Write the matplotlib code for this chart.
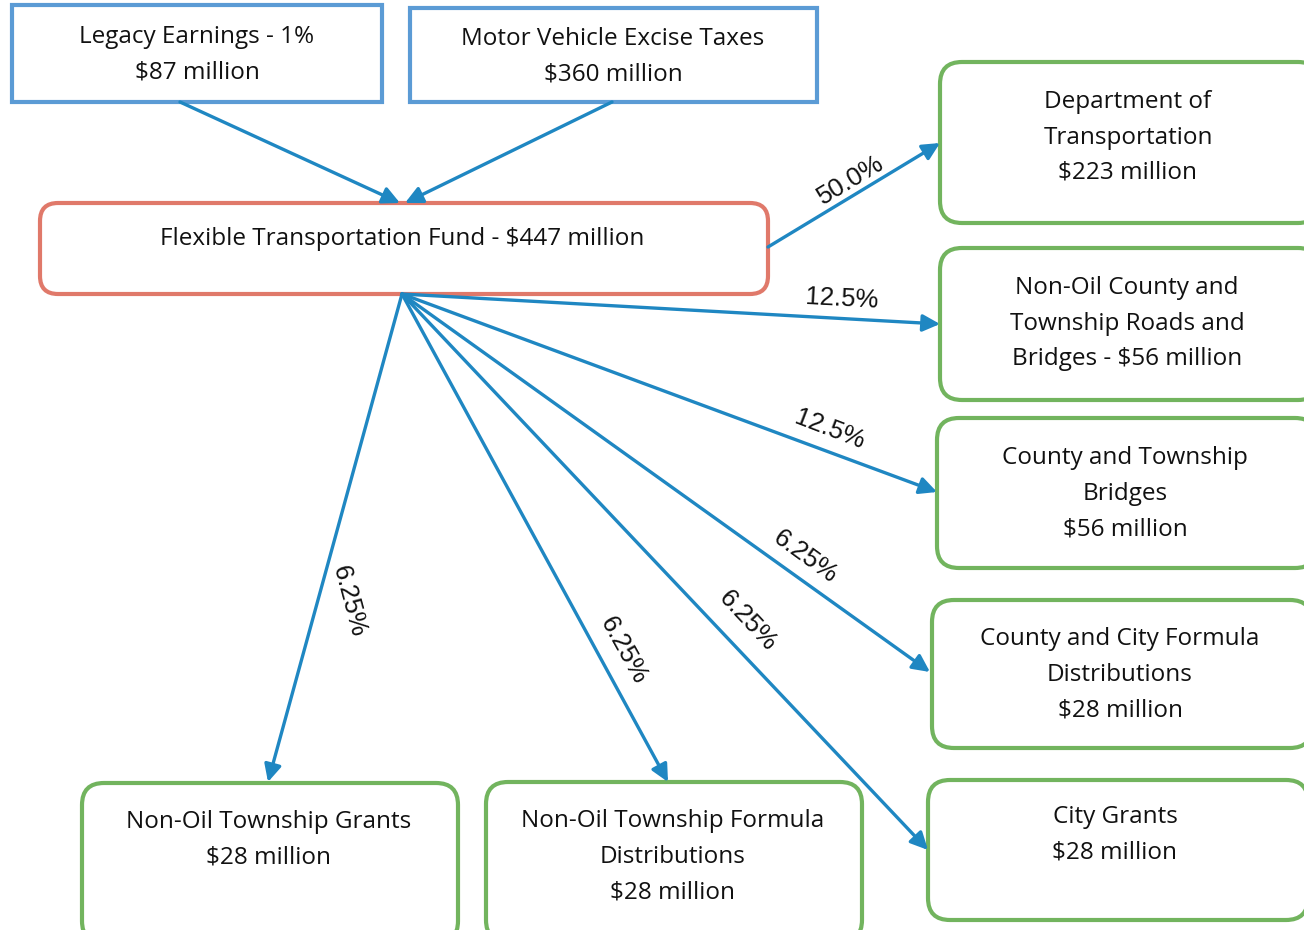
import matplotlib
matplotlib.use("Agg")
import matplotlib.pyplot as plt
from matplotlib.patches import FancyBboxPatch, FancyArrowPatch

# --- data ---
source_labels = ["Legacy Earnings - 1%", "Motor Vehicle Excise Taxes"]
source_values = [87, 360]
fund_label = "Flexible Transportation Fund"
fund_value = 447
dest_labels = [
    ["Department of", "Transportation"],
    ["Non-Oil County and", "Township Roads and", "Bridges - "],
    ["County and Township", "Bridges"],
    ["County and City Formula", "Distributions"],
    ["City Grants"],
    ["Non-Oil Township Formula", "Distributions"],
    ["Non-Oil Township Grants"],
]
dest_shares = ["50.0%", "12.5%", "12.5%", "6.25%", "6.25%", "6.25%", "6.25%"]
dest_values = [223, 56, 56, 28, 28, 28, 28]

# --- layout (pixel coords, y down) ---
W, H = 1304, 930
src_boxes = [(12, 5, 370, 97), (410, 8, 407, 94)]
src_text = [(197, 37), (613, 39)]
fund_box = (40, 203, 728, 91)
fund_text = (402, 239)
dest_boxes = [
    (940, 62, 380, 161), (940, 248, 380, 152), (937, 418, 380, 150),
    (932, 600, 380, 148), (928, 780, 380, 140), (486, 782, 376, 160),
    (82, 783, 376, 160),
]
dest_text = [(1128, 102), (1127, 288), (1125, 458), (1120, 639),
             (1115, 817), (673, 821), (269, 822)]
arrow_ends = [(940, 143), (940, 324), (937, 492), (930, 672),
              (928, 850), (668, 782), (268, 782)]
label_pos = [(851, 180), (842, 299), (830, 430), (805, 557),
             (748, 621), (624, 650), (349, 601)]
label_rot = [31, -3, -21, -36, -47, -61, -75]
line_dy = 35.5

blue = "#5b9bd5"
red = "#e0796a"
green = "#72b45e"
arrow_c = "#1f87c2"
font = "Open Sans"
fs = 17.5

fig = plt.figure(figsize=(W / 100, H / 100), dpi=100)
ax = fig.add_axes([0, 0, 1, 1])
ax.set_xlim(0, W)
ax.set_ylim(H, 0)
ax.axis("off")


def box(b, color, rounding):
    x, y, w, h = b
    style = "round,pad=0,rounding_size=%d" % rounding if rounding else "square,pad=0"
    ax.add_patch(FancyBboxPatch((x, y), w, h, boxstyle=style, fc="white",
                                ec=color, lw=3, zorder=1))


def lines(pos, txt):
    x, y = pos
    for i, t in enumerate(txt):
        ax.text(x, y + i * line_dy, t, ha="center", va="center",
                fontsize=fs, family=font, color="#111111", zorder=3)


def arrow(p0, p1):
    ax.add_patch(FancyArrowPatch(p0, p1, arrowstyle="-|>,head_length=6.5,head_width=3.2",
                                 mutation_scale=1.6, color=arrow_c, lw=2.4,
                                 shrinkA=0, shrinkB=0, zorder=2))


for b, p, name, v in zip(src_boxes, src_text, source_labels, source_values):
    box(b, blue, 0)
    lines(p, [name, "$%d million" % v])

box(fund_box, red, 18)
lines(fund_text, ["%s - $%d million" % (fund_label, fund_value)])

arrow((180, 102), (400, 203))
arrow((612, 102), (405, 203))

for i, (b, p, name, v) in enumerate(zip(dest_boxes, dest_text, dest_labels, dest_values)):
    box(b, green, 22)
    if name[-1].endswith(" - "):
        txt = name[:-1] + [name[-1] + "$%d million" % v]
    else:
        txt = name + ["$%d million" % v]
    lines(p, txt)
    start = (768, 247) if i == 0 else (402, 294)
    arrow(start, arrow_ends[i])
    ax.text(label_pos[i][0], label_pos[i][1], dest_shares[i], rotation=label_rot[i],
            rotation_mode="anchor", ha="center", va="center", fontsize=18.5,
            family="Liberation Sans", color="#111111", zorder=3)

fig.savefig("out.png", dpi=100)
